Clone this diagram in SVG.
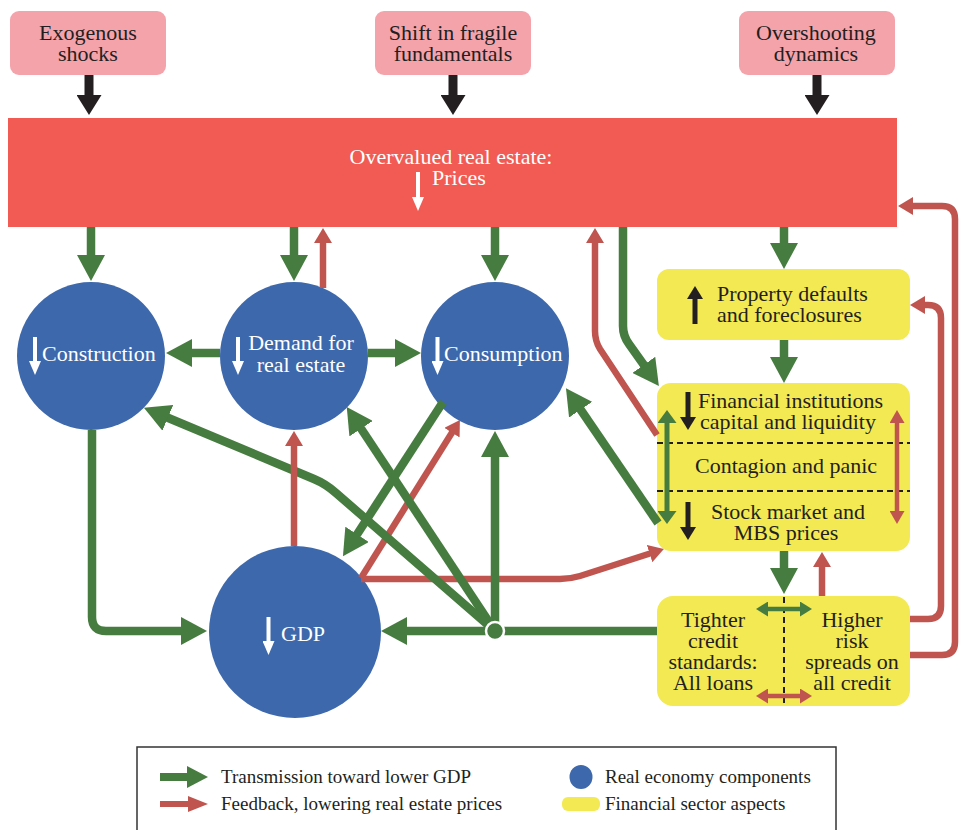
<svg xmlns="http://www.w3.org/2000/svg" width="959" height="830" viewBox="0 0 959 830">
<defs>
<style>
.t{font-family:"Liberation Serif","Times New Roman",serif;font-size:22px;fill:#231f20}
.w{fill:#ffffff}
.c{text-anchor:middle}
.lg{font-size:19px}
.pink{fill:#f5a3ab}
.yel{fill:#f3e952}
.blue{fill:#3d68ab}
.g{fill:none;stroke:#467c3f;stroke-width:8.5;marker-end:url(#mG)}
.r{fill:none;stroke:#c0554f;stroke-width:6.5;marker-end:url(#mR)}
.k{fill:none;stroke:#231f20;stroke-width:9;marker-end:url(#mK)}
.ks{fill:none;stroke:#231f20;stroke-width:5;marker-end:url(#mKs)}
.ws{fill:none;stroke:#ffffff;stroke-width:4;marker-end:url(#mW)}
.dash{fill:none;stroke:#231f20;stroke-width:2;stroke-dasharray:6 4}
</style>
<marker id="mG" viewBox="0 0 26 28" markerWidth="26" markerHeight="28" refX="2" refY="14" orient="auto" markerUnits="userSpaceOnUse"><path d="M0,0L26,14L0,28Z" fill="#467c3f"/></marker>
<marker id="mR" viewBox="0 0 15 18" markerWidth="15" markerHeight="18" refX="2" refY="9" orient="auto" markerUnits="userSpaceOnUse"><path d="M0,0L15,9L0,18Z" fill="#c0554f"/></marker>
<marker id="mK" viewBox="0 0 20 25" markerWidth="20" markerHeight="25" refX="2" refY="12.5" orient="auto" markerUnits="userSpaceOnUse"><path d="M0,0L20,12.5L0,25Z" fill="#231f20"/></marker>
<marker id="mKs" viewBox="0 0 13 16" markerWidth="13" markerHeight="16" refX="2" refY="8" orient="auto" markerUnits="userSpaceOnUse"><path d="M0,0L13,8L0,16Z" fill="#231f20"/></marker>
<marker id="mW" viewBox="0 0 14 12" markerWidth="14" markerHeight="12" refX="2" refY="6" orient="auto" markerUnits="userSpaceOnUse"><path d="M0,0L14,6L0,12Z" fill="#ffffff"/></marker>
<marker id="mGv" viewBox="0 0 13 19" markerWidth="13" markerHeight="19" refX="2" refY="9.5" orient="auto-start-reverse" markerUnits="userSpaceOnUse"><path d="M0,0L13,9.5L0,19Z" fill="#467c3f"/></marker>
<marker id="mRv" viewBox="0 0 13 15" markerWidth="13" markerHeight="15" refX="2" refY="7.5" orient="auto-start-reverse" markerUnits="userSpaceOnUse"><path d="M0,0L13,7.5L0,15Z" fill="#c0554f"/></marker>
<marker id="mGh" viewBox="0 0 12 15" markerWidth="12" markerHeight="15" refX="2" refY="7.5" orient="auto-start-reverse" markerUnits="userSpaceOnUse"><path d="M0,0L12,7.5L0,15Z" fill="#467c3f"/></marker>
<marker id="mRh" viewBox="0 0 12 15" markerWidth="12" markerHeight="15" refX="2" refY="7.5" orient="auto-start-reverse" markerUnits="userSpaceOnUse"><path d="M0,0L12,7.5L0,15Z" fill="#c0554f"/></marker>
</defs>

<rect width="959" height="830" fill="#ffffff"/>

<g id="exogenous-shocks">
<rect class="pink" x="10" y="11" width="156" height="64" rx="9"/>
<text class="t c" x="88" y="40">Exogenous</text>
<text class="t c" x="88" y="61">shocks</text>
</g>
<g id="shift-fundamentals">
<rect class="pink" x="375" y="11" width="156" height="64" rx="9"/>
<text class="t c" x="453" y="40">Shift in fragile</text>
<text class="t c" x="453" y="61">fundamentals</text>
</g>
<g id="overshooting">
<rect class="pink" x="739" y="11" width="156" height="64" rx="9"/>
<text class="t c" x="816" y="40">Overshooting</text>
<text class="t c" x="816" y="61">dynamics</text>
</g>

<g id="overvalued-real-estate">
<rect x="8" y="118" width="889" height="109" fill="#f15b53"/>
<text class="t c w" x="451" y="164">Overvalued real estate:</text>
<text class="t w" x="432" y="185">Prices</text>
<path class="ws" d="M418,172V199"/>
</g>

<g id="construction">
<circle class="blue" cx="91" cy="356" r="74"/>
<path class="ws" d="M35,337V363"/>
<text class="t w" x="42" y="361">Construction</text>
</g>
<g id="demand">
<circle class="blue" cx="294" cy="356" r="74"/>
<path class="ws" d="M238,337V363"/>
<text class="t c w" x="301" y="350">Demand for</text>
<text class="t c w" x="301" y="372">real estate</text>
</g>
<g id="consumption">
<circle class="blue" cx="495" cy="356" r="74"/>
<path class="ws" d="M437.5,337V363"/>
<text class="t w" x="444" y="361">Consumption</text>
</g>
<g id="gdp">
<circle class="blue" cx="295" cy="632" r="86"/>
<path class="ws" d="M268.5,617V643"/>
<text class="t w" x="281" y="641">GDP</text>
</g>

<g id="property-defaults">
<rect class="yel" x="657" y="269" width="253" height="71" rx="12"/>
<path class="ks" d="M695,324V297"/>
<text class="t" x="717" y="301">Property defaults</text>
<text class="t" x="717" y="322">and foreclosures</text>
</g>

<g id="financial-institutions">
<rect class="yel" x="657" y="383" width="253" height="168" rx="14"/>
<path class="dash" d="M657,443H910M657,491H910"/>
<path class="ks" d="M688,392V419"/>
<text class="t" x="698" y="408">Financial institutions</text>
<text class="t" x="700" y="429">capital and liquidity</text>
<text class="t c" x="786" y="473">Contagion and panic</text>
<path class="ks" d="M688,502V529"/>
<text class="t c" x="788" y="519">Stock market and</text>
<text class="t c" x="786" y="540">MBS prices</text>
</g>

<g id="credit">
<rect class="yel" x="657" y="596" width="253" height="110" rx="16"/>
<path class="dash" d="M784,597V706"/>
<text class="t c" x="713" y="627">Tighter</text>
<text class="t c" x="713" y="648">credit</text>
<text class="t c" x="713" y="669">standards:</text>
<text class="t c" x="713" y="690">All loans</text>
<text class="t c" x="852" y="627">Higher</text>
<text class="t c" x="852" y="648">risk</text>
<text class="t c" x="852" y="669">spreads on</text>
<text class="t c" x="852" y="690">all credit</text>
</g>

<g id="connectors">
<path class="k" d="M89,75V97"/>
<path class="k" d="M453,75V97"/>
<path class="k" d="M817,75V97"/>

<path class="r" d="M361,579H560Q570,579 580,576L651.5,553"/>
<path class="r" d="M361,578L453,431"/>

<path class="g" d="M91,227V257"/>
<path class="g" d="M294,227V257"/>
<path class="g" d="M495,227V257"/>
<path class="g" d="M784,227V245"/>
<path class="g" d="M623,227V326Q623,336 629,344L645,366.5"/>
<path class="g" d="M784,340V359"/>
<path class="g" d="M784,551V570"/>
<path class="g" d="M220,353H190"/>
<path class="g" d="M368,353H397"/>
<path class="g" d="M657,631H405"/>
<path class="g" d="M495,631V455"/>
<path class="g" d="M495,631L360,427"/>
<path class="g" d="M495,631L336,493Q326,484 314,479L166,417"/>
<path class="g" d="M443,402L356,536"/>
<path class="g" d="M658,523L579.5,408"/>
<path class="g" d="M92,430V617Q92,631 106,631H183"/>

<path class="r" d="M323,288V241"/>
<path class="r" d="M657,435L600,349Q595,341 595,331V241"/>
<path class="r" d="M294,546V444"/>
<path class="r" d="M822,596V565"/>
<path class="r" d="M910,619H928Q941,619 941,606V318Q941,305 928,305H923"/>
<path class="r" d="M910,655H942Q955,655 955,642V219Q955,206 942,206H911"/>

<path d="M667,421V513" fill="none" stroke="#467c3f" stroke-width="5" marker-start="url(#mGv)" marker-end="url(#mGv)"/>
<path d="M897,421V513" fill="none" stroke="#c0554f" stroke-width="4.5" marker-start="url(#mRv)" marker-end="url(#mRv)"/>
<path d="M766,609H802" fill="none" stroke="#467c3f" stroke-width="4.5" marker-start="url(#mGh)" marker-end="url(#mGh)"/>
<path d="M766,696H802" fill="none" stroke="#c0554f" stroke-width="4.5" marker-start="url(#mRh)" marker-end="url(#mRh)"/>

<circle cx="495" cy="631" r="9" fill="#467c3f" stroke="#ffffff" stroke-width="2.5"/>
</g>

<g id="legend">
<rect x="137" y="747" width="699" height="100" fill="none" stroke="#333333" stroke-width="1.5"/>
<path d="M160,777H189" stroke="#467c3f" stroke-width="8" fill="none"/>
<path d="M187,766L208,777L187,788Z" fill="#467c3f"/>
<path d="M160,804H190" stroke="#c0554f" stroke-width="6" fill="none"/>
<path d="M188,796L208,804L188,812Z" fill="#c0554f"/>
<text class="t lg" x="221" y="783">Transmission toward lower GDP</text>
<text class="t lg" x="221" y="810">Feedback, lowering real estate prices</text>
<ellipse class="blue" cx="581" cy="777" rx="11.5" ry="12"/>
<rect class="yel" x="562" y="797" width="38" height="14" rx="6"/>
<text class="t lg" x="605" y="783">Real economy components</text>
<text class="t lg" x="605" y="810">Financial sector aspects</text>
</g>
</svg>
